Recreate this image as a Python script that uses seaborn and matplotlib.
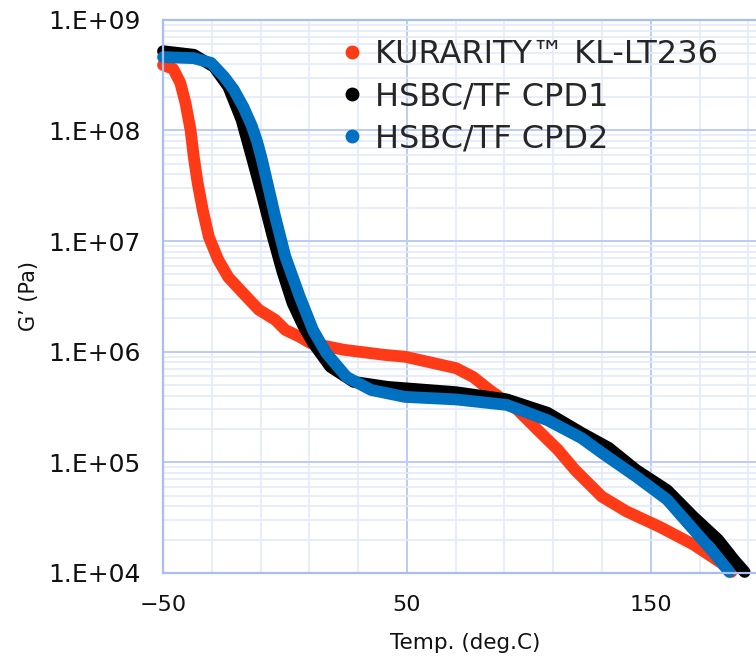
import numpy as np
import pandas as pd
import matplotlib
matplotlib.use("Agg")
import matplotlib.pyplot as plt
from matplotlib.lines import Line2D
from matplotlib.ticker import FixedLocator, LogLocator, NullFormatter
import seaborn as sns

# values
series_names = ["KURARITY\u2122 KL-LT236", "HSBC/TF CPD1", "HSBC/TF CPD2"]
series_colors = ["#FF3A17", "#000000", "#0070C0"]

kl_temp = [-50, -45.8, -42.9, -40.8, -38.7, -37.4, -35.8, -33.7, -31.2, -27.4,
           -23.2, -17.8, -10.7, -4.0, 0.2, 6.1, 10.3, 24.1, 40.8, 49.2,
           70.1, 77.2, 83.9, 95.2, 104.8, 111.9, 119.0, 129.9, 140.0, 153.8,
           167.6, 178.9, 183.1]
kl_g = [3.9e8, 3.6e8, 2.69e8, 1.78e8, 1.01e8, 5.8e7, 3.36e7, 1.91e7, 1.09e7, 6.8e6,
        4.7e6, 3.5e6, 2.39e6, 1.94e6, 1.57e6, 1.36e6, 1.2e6, 1.04e6, 9.35e5, 9.0e5,
        7.1e5, 5.9e5, 4.5e5, 3.0e5, 1.85e5, 1.3e5, 8.5e4, 4.9e4, 3.6e4, 2.6e4,
        1.8e4, 1.23e4, 1.02e4]

cpd1_temp = [-50, -37.4, -29.1, -23.2, -17.8, -13.6, -9.4, -5.2, -1.0, 3.1,
             7.3, 11.5, 18.6, 28.2, 42.1, 70.1, 91.0, 107.7, 121.5, 132.8,
             144.1, 156.7, 167.6, 177.6, 184.3, 188.5]
cpd1_g = [5.2e8, 4.83e8, 3.76e8, 2.48e8, 1.25e8, 5.77e7, 2.62e7, 1.14e7, 5.27e6, 2.76e6,
          1.75e6, 1.2e6, 7.3e5, 5.33e5, 4.8e5, 4.3e5, 3.7e5, 2.8e5, 1.85e5, 1.35e5,
          8.5e4, 5.6e4, 3.2e4, 2.0e4, 1.3e4, 1.02e4]

cpd2_temp = [-50, -37.4, -30.3, -24.9, -21.0, -17.0, -13.6, -11.4, -9.4, -4.0,
             0.2, 6.1, 11.5, 16.9, 25.3, 35.4, 49.2, 70.1, 91.0, 107.7,
             121.5, 129.9, 144.1, 156.7, 167.6, 175.9, 182.2]
cpd2_g = [4.6e8, 4.5e8, 4.08e8, 3.05e8, 2.34e8, 1.62e8, 1.1e8, 7.9e7, 5.4e7, 1.66e7,
          7.2e6, 3.13e6, 1.57e6, 9.75e5, 5.9e5, 4.5e5, 3.9e5, 3.7e5, 3.3e5, 2.4e5,
          1.66e5, 1.22e5, 7.4e4, 4.6e4, 2.45e4, 1.52e4, 1.02e4]

y_ticks = [1e4, 1e5, 1e6, 1e7, 1e8, 1e9]
y_tick_labels = ["1.E+04", "1.E+05", "1.E+06", "1.E+07", "1.E+08", "1.E+09"]
x_ticks = [-50, 50, 150]

df = pd.concat([
    pd.DataFrame({"temp": kl_temp, "g": kl_g, "sample": series_names[0]}),
    pd.DataFrame({"temp": cpd1_temp, "g": cpd1_g, "sample": series_names[1]}),
    pd.DataFrame({"temp": cpd2_temp, "g": cpd2_g, "sample": series_names[2]}),
])

sns.set_theme(style="white")
plt.rcParams["font.family"] = ["DejaVu Sans"]

fig = plt.figure(figsize=(7.56, 6.6), dpi=100)
ax = fig.add_axes([0.2156, 0.132, 0.80, 0.838])

major_col = "#BCCBF7"
minor_col = "#E4EAFC"

# red first, then black, blue on top (as in the reference)
for name, col in zip(series_names, series_colors):
    sub = df[df["sample"] == name]
    sns.lineplot(data=sub, x="temp", y="g", ax=ax, color=col, linewidth=8.5,
                 sort=False, estimator=None, legend=False, clip_on=False,
                 solid_capstyle="round", solid_joinstyle="round")

ax.set_yscale("log")
ax.set_ylim(1e4, 1e9)
ax.set_xlim(-50, 198)

ax.xaxis.set_major_locator(FixedLocator(x_ticks))
ax.xaxis.set_minor_locator(FixedLocator(np.arange(-50, 200, 20)))
ax.yaxis.set_major_locator(FixedLocator(y_ticks))
ax.yaxis.set_minor_locator(LogLocator(base=10, subs=np.arange(2, 10)))
ax.yaxis.set_minor_formatter(NullFormatter())
ax.set_yticklabels(y_tick_labels)

ax.grid(True, which="minor", color=minor_col, linewidth=1.2)
ax.grid(True, which="major", color=major_col, linewidth=1.4)
ax.set_axisbelow(True)

ax.tick_params(axis="both", which="both", length=0, colors="#111111")
ax.tick_params(axis="x", pad=16, labelsize=16)
ax.tick_params(axis="y", pad=16, labelsize=18)

for side in ["left", "bottom", "top"]:
    ax.spines[side].set_color("#A9BDF5")
    ax.spines[side].set_linewidth(1.6)
ax.spines["right"].set_visible(False)

ax.set_xlabel("Temp. (deg.C)", fontsize=15.5, color="#111111", labelpad=13)
ax.set_ylabel("G\u2019 (Pa)", fontsize=15, color="#111111", labelpad=7)

handles = [Line2D([0], [0], marker="o", linestyle="none", markersize=9,
                  markerfacecolor=c, markeredgecolor=c) for c in series_colors]
ax.legend(handles, series_names, loc="upper left", bbox_to_anchor=(0.26, 1.0),
          frameon=False, fontsize=23, handlelength=0.8, handletextpad=0.3,
          labelspacing=0.35, borderaxespad=0.2)

fig.savefig("out.png", dpi=100)
